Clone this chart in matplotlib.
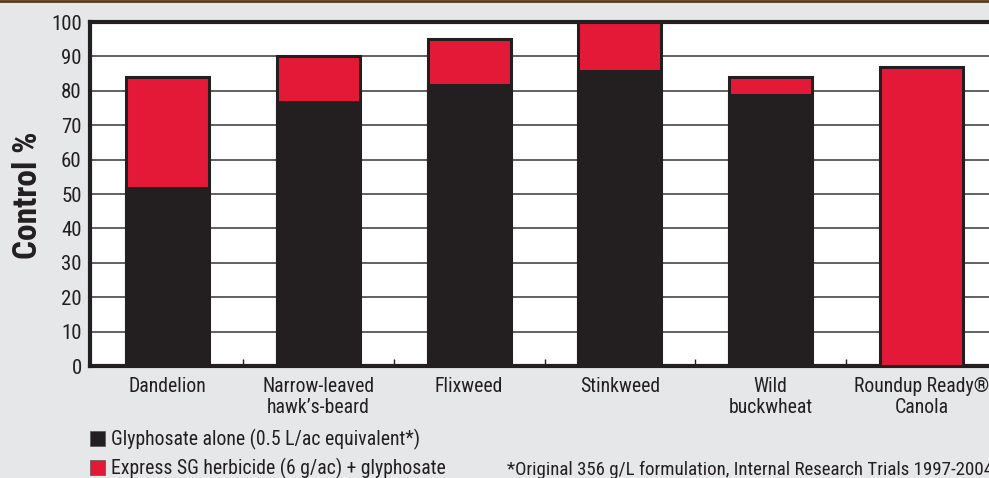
import matplotlib
matplotlib.use("Agg")
import matplotlib.pyplot as plt
from matplotlib.patches import Rectangle
from matplotlib.lines import Line2D
import numpy as np

categories = ["Dandelion", "Narrow-leaved\nhawk\u2019s-beard", "Flixweed", "Stinkweed",
              "Wild\nbuckwheat", "Roundup Ready\u00ae\nCanola"]
glyphosate_alone = [52, 77, 82, 86, 79, 0]
express_total = [84, 90, 95, 100, 84, 87]
yticks = [0, 10, 20, 30, 40, 50, 60, 70, 80, 90, 100]

BLACK = "#231f20"
RED = "#e31937"
BG = "#e6e7e8"

plt.rcParams['font.family'] = ['Roboto Condensed', 'Archivo Narrow', 'Barlow Condensed', 'DejaVu Sans']

W, H = 989, 478
fig = plt.figure(figsize=(W/100, H/100), dpi=100, facecolor=BG)
ax = fig.add_axes([90/W, (H-366)/H, (999-90)/W, (366-22)/H])
ax.set_facecolor("white")

x = np.arange(len(categories))
red_part = [t - g for t, g in zip(express_total, glyphosate_alone)]
ax.bar(x, glyphosate_alone, width=0.55, color=BLACK, edgecolor=BLACK, linewidth=1.5, zorder=3)
ax.bar(x, red_part, bottom=glyphosate_alone, width=0.55, color=RED, edgecolor=BLACK, linewidth=0, zorder=3)
ax.bar(x, express_total, width=0.55, color="none", edgecolor=BLACK, linewidth=2.2, zorder=4)

ax.set_xlim(-0.515, 5.515)
ax.set_ylim(0, 100)
ax.set_yticks(yticks)
ax.set_yticklabels([str(v) for v in yticks], fontsize=15, color=BLACK)
ax.yaxis.grid(True, color="#555555", linewidth=1.3, zorder=1)
ax.set_axisbelow(True)
ax.tick_params(axis='y', length=0, pad=6)
ax.set_xticks(x)
ax.set_xticklabels(categories, fontsize=14.2, color=BLACK, linespacing=1.12)
ax.tick_params(axis='x', length=0, pad=8)
ax.set_xticks(np.arange(0.5, 5.0, 1.0), minor=True)
ax.tick_params(axis='x', which='minor', direction='in', length=5, width=1, color=BLACK)

for s in ['left', 'bottom', 'top']:
    ax.spines[s].set_linewidth(3)
    ax.spines[s].set_color(BLACK)
ax.spines['right'].set_visible(False)

fig.text(28/W, (H-195)/H, "Control %", rotation=90, fontsize=24, fontweight='bold',
         color=BLACK, ha='center', va='center')

fig.patches.append(Rectangle((90/W, (H-446)/H), 15/W, 15/H, transform=fig.transFigure,
                             facecolor=BLACK, edgecolor="#555555", linewidth=0.5))
fig.patches.append(Rectangle((90/W, (H-475)/H), 15/W, 15/H, transform=fig.transFigure,
                             facecolor=RED, edgecolor="#555555", linewidth=0.5))
fig.text(111/W, (H-439)/H, "Glyphosate alone (0.5 L/ac equivalent*)", fontsize=14.2,
         color=BLACK, va='center', ha='left')
fig.text(111/W, (H-468)/H, "Express SG herbicide (6 g/ac) + glyphosate", fontsize=14.2,
         color=BLACK, va='center', ha='left')
fig.text(507/W, (H-470)/H, "*Original 356 g/L formulation, Internal Research Trials 1997-2004",
         fontsize=13.6, color=BLACK, va='center', ha='left')

fig.add_artist(Line2D([0, 1], [1 - 1/H, 1 - 1/H], transform=fig.transFigure,
                      color="#5a3a1e", linewidth=2))

fig.savefig("out.png", dpi=100, facecolor=BG)
